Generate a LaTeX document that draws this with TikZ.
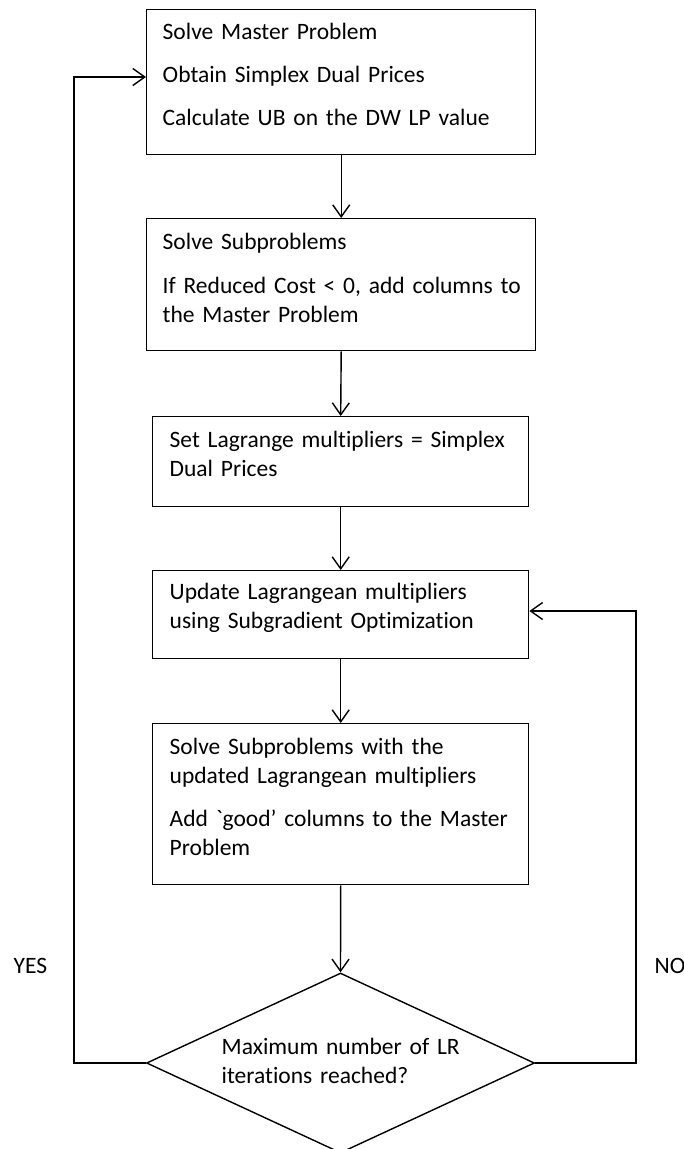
\documentclass[tikz,border=0pt]{standalone}
\usepackage{fontspec}
\setmainfont{Carlito}[Ligatures={TeXOff,CommonOff}]
\usetikzlibrary{shapes.geometric,arrows.meta}
\newcommand{\flowfont}{\fontsize{23.5pt}{29pt}\selectfont}
\begin{document}
\begin{tikzpicture}[x=1pt,y=-1pt,
  line width=1.4pt,
  >={Straight Barb[length=12pt,width=17pt]},
  stepbox/.style={draw, rectangle, anchor=north west, inner sep=0pt},
  steptext/.style={anchor=base west, inner sep=0pt, text width=375pt, align=left,
    font=\flowfont},
  answer/.style={anchor=base west, inner sep=0pt, font=\flowfont},
  decision/.style={draw, diamond, inner sep=0pt, minimum width=388pt, minimum height=180pt},
  flow/.style={->}]
  % page frame
  \useasboundingbox (0,0) rectangle (684,1149);

  % process boxes
  \node[stepbox, minimum width=389pt, minimum height=145pt] (b1) at (146,9) {};
  \node[stepbox, minimum width=389pt, minimum height=132pt] (b2) at (146,218) {};
  \node[stepbox, minimum width=376pt, minimum height=90pt]  (b3) at (152,416) {};
  \node[stepbox, minimum width=376pt, minimum height=88pt]  (b4) at (152,570) {};
  \node[stepbox, minimum width=376pt, minimum height=161pt] (b5) at (152,723) {};
  \node[decision] (d) at (340.5,1063) {};

  % box texts
  \node[steptext] (t1) at (162,39.5) {Solve Master Problem\\[14pt]Obtain Simplex Dual Prices\\[14pt]Calculate UB on the DW LP value};
  \node[steptext] (t2) at (162,249.5) {Solve Subproblems\\[15pt]If Reduced Cost < 0, add columns to\\the Master Problem};
  \node[steptext] (t3) at (169,447.5) {Set Lagrange multipliers = Simplex\\Dual Prices};
  \node[steptext] (t4) at (169,599.5) {Update Lagrangean multipliers\\using Subgradient Optimization};
  \node[steptext] (t5) at (169,754.5) {Solve Subproblems with the\\updated Lagrangean multipliers\\[14pt]Add `good’ columns to the Master\\Problem};
  \node[steptext] (dt) at (221,1054.5) {Maximum number of LR\\iterations reached?};

  % branch labels
  \node[answer] (yes) at (13,973.5) {YES};
  \node[answer] (no) at (654,973.5) {NO};

  % main flow
  \draw[flow] (b1.south) -- (b2.north);
  \draw[flow] (b2.south) -- (b3.north);
  \draw[flow] (b3.south) -- (b4.north);
  \draw[flow] (b4.south) -- (b5.north);
  \draw[flow] (b5.south) -- (d.north);

  % loops back from the decision
  \coordinate (yl) at (74,77);
  \coordinate (nr) at (636,611);
  \draw[flow] (d.west) -| (yl) -- (yl -| b1.west);
  \draw[flow] (d.east) -| (nr) -- (nr -| b4.east);
\end{tikzpicture}
\end{document}
